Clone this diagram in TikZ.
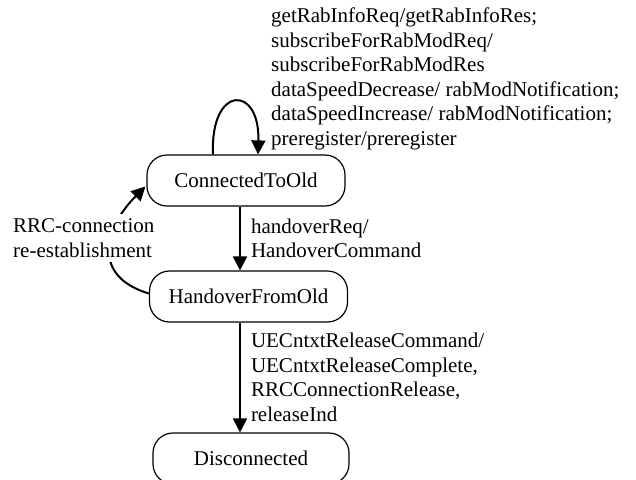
\documentclass[tikz,border=0pt]{standalone}
\usepackage{fontspec}
\setmainfont{Liberation Serif}
\usetikzlibrary{arrows.meta,calc}
\newcommand\dgfont{\fontsize{21pt}{24.5pt}\selectfont}
\begin{document}
\begin{tikzpicture}[x=1pt,y=-1pt,
  state/.style={draw, line width=1.2pt, rounded corners=20pt, minimum width=198pt,
    minimum height=51pt, inner sep=0pt, font=\dgfont},
  lbl/.style={align=left, inner sep=0pt, anchor=west, font=\dgfont},
  arr/.style={line width=2pt, -{Triangle[width=14pt,length=14pt]}},
]
\clip (0,0) rectangle (636,479);
\fill[white] (0,0) rectangle (636,479);
\node[state] (c) at (246,180.5) {ConnectedToOld};
\node[state] (h) at (248.5,296.5) {HandoverFromOld};
\node[state, minimum width=196pt] (d) at (251,458.5) {Disconnected};
\coordinate (ax) at (240,0);
\coordinate (lf) at (213,0);
\coordinate (rt) at (258,0);
% self loop
\draw[arr] (c.north -| lf) .. controls +(-3,-70) and +(2,-70) .. (c.north -| rt);
\node[lbl] (t) at (271,79) {getRabInfoReq/getRabInfoRes;\\subscribeForRabModReq/\\subscribeForRabModRes\\dataSpeedDecrease/ rabModNotification;\\dataSpeedIncrease/ rabModNotification;\\preregister/preregister};
% handover
\draw[arr] (c.south -| ax) -- node[lbl, midway, xshift=10pt] (l1) {handoverReq/\\HandoverCommand} (h.north -| ax);
\draw[arr] (h.south -| ax) -- node[lbl, midway, xshift=10pt] (l2) {UECntxtReleaseCommand/\\UECntxtReleaseComplete,\\RRCConnectionRelease,\\releaseInd} (d.north -| ax);
% re-establishment
\draw[arr] ($(h.west)+(0,-3)$) .. controls +(-60,-18) and +(-39,39) .. ($(c.west)+(-1,6)$);
\node[lbl, fill=white, inner sep=5pt] (rl) at (8,238) {RRC-connection\\re-establishment};
\end{tikzpicture}
\end{document}
